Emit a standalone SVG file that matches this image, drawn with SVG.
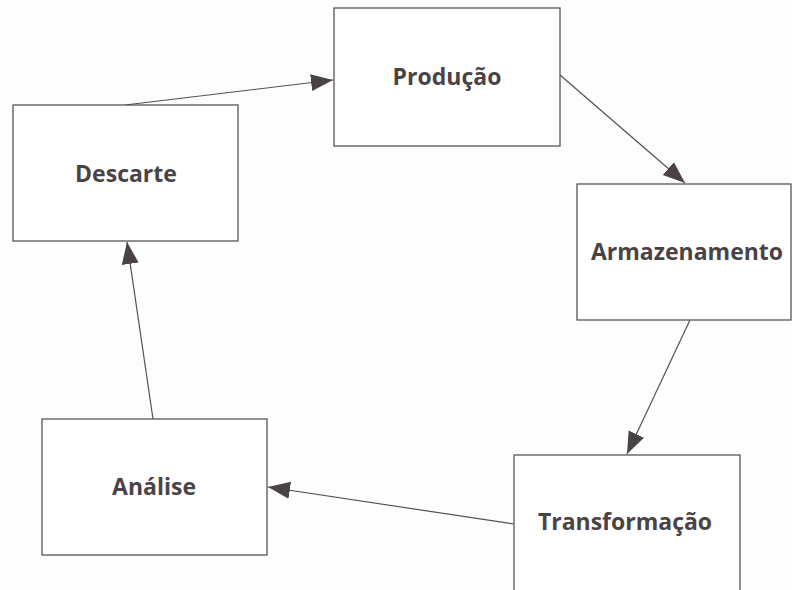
<svg xmlns="http://www.w3.org/2000/svg" width="792" height="590" viewBox="0 0 792 590">
<style>
.box{fill:#fff;stroke:#5a5558;stroke-width:1.3}
.lbl{font-family:"Open Sans","Liberation Sans",sans-serif;font-weight:bold;font-size:23px;fill:#4a4346;text-anchor:middle}
.con{stroke:#555053;stroke-width:1.2;fill:none;marker-end:url(#arr)}
</style>
<defs>
<marker id="arr" markerUnits="userSpaceOnUse" markerWidth="24" markerHeight="18" refX="22" refY="8.5" orient="auto">
<path d="M0,0 L22,8.5 L0,17 z" fill="#4a4346"/>
</marker>
</defs>
<rect width="792" height="590" fill="#fdfdfd"/>
<g id="connectors">
<line class="con" x1="125" y1="105" x2="333" y2="80"/>
<line class="con" x1="560" y1="75" x2="685" y2="183"/>
<line class="con" x1="690" y1="320" x2="627" y2="454"/>
<line class="con" x1="514" y1="524" x2="268" y2="487"/>
<line class="con" x1="153" y1="419" x2="127" y2="242"/>
</g>
<g id="producao"><rect class="box" x="334" y="8" width="226" height="138"/><text class="lbl" x="447" y="85">Produção</text></g>
<g id="armazenamento"><rect class="box" x="577" y="184" width="214" height="136"/><text class="lbl" x="687" y="260">Armazenamento</text></g>
<g id="transformacao"><rect class="box" x="514" y="455" width="226" height="145"/><text class="lbl" x="625" y="530">Transformação</text></g>
<g id="analise"><rect class="box" x="42" y="419" width="225" height="136"/><text class="lbl" x="154" y="495">Análise</text></g>
<g id="descarte"><rect class="box" x="13" y="105" width="225" height="136"/><text class="lbl" x="126" y="182">Descarte</text></g>
</svg>
